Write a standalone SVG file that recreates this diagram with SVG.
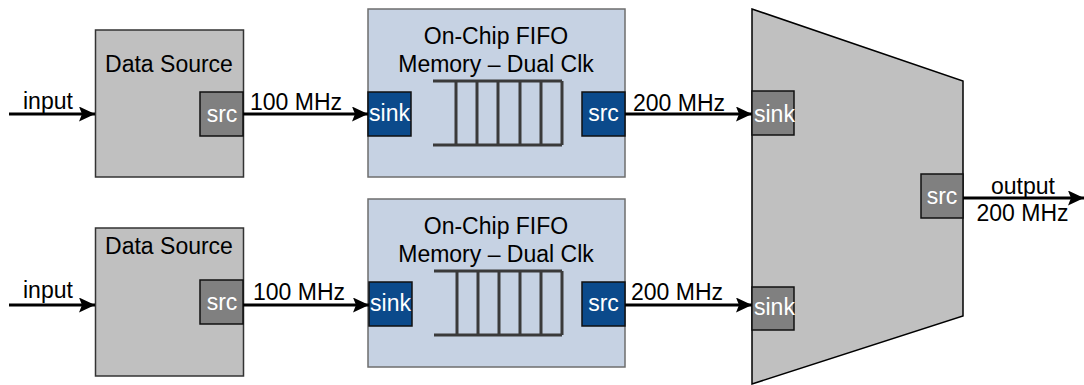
<svg xmlns="http://www.w3.org/2000/svg" width="1084" height="385" viewBox="0 0 1084 385">
<style>
text{font-family:"Liberation Sans",Arial,sans-serif;font-size:23px;fill:#000}
.ds{fill:#c0c0c0;stroke:#333;stroke-width:1.5}
.gp{fill:#808080;stroke:#111;stroke-width:1.5}
.bp{fill:#0b4a8b;stroke:#111;stroke-width:1.5}
.fifo{fill:#c6d2e3;stroke:#6e6e6e;stroke-width:1.5}
.w{fill:#fff}
.c{text-anchor:middle}
.q{fill:none;stroke:#3a3a3a;stroke-width:3}
.con{fill:none;stroke:#000;stroke-width:3;marker-end:url(#ah)}
</style>
<defs>
<marker id="ah" markerUnits="userSpaceOnUse" markerWidth="17" markerHeight="16" refX="16" refY="7.5" orient="auto">
<path d="M0,0 L16,7.5 L0,15 L3,7.5 z" fill="#000"/>
</marker>
</defs>
<g id="mux">
<polygon points="752,9 963,81 963,316 752,384" fill="#c0c0c0" stroke="#000" stroke-width="1.5"/>
<rect class="gp" x="752" y="91" width="42" height="44"/>
<text class="w" x="754" y="122">sink</text>
<rect class="gp" x="752" y="287" width="42" height="43"/>
<text class="w" x="754" y="315">sink</text>
<rect class="gp" x="921" y="174" width="42" height="44"/>
<text class="w c" x="942" y="204">src</text>
</g>
<g id="ds1">
<rect class="ds" x="95.5" y="30" width="148" height="147"/>
<text class="c" x="169" y="72">Data Source</text>
<rect class="gp" x="200" y="92" width="43" height="44"/>
<text class="w c" x="222" y="122">src</text>
</g>
<g id="ds2">
<rect class="ds" x="95.5" y="228" width="148" height="148"/>
<text class="c" x="169" y="254">Data Source</text>
<rect class="gp" x="200" y="280" width="43" height="44"/>
<text class="w c" x="222" y="310">src</text>
</g>
<g id="fifo1">
<rect class="fifo" x="368" y="9" width="257" height="168"/>
<text class="c" x="496" y="44">On-Chip FIFO</text>
<text class="c" x="496" y="72">Memory – Dual Clk</text>
<path class="q" d="M433,81 H562 M433,145 H562 M456,81 V145 M477,81 V145 M498,81 V145 M520,81 V145 M541,81 V145 M562,81 V145"/>
<rect class="bp" x="368" y="92" width="43" height="44"/>
<text class="w c" x="389.5" y="121">sink</text>
<rect class="bp" x="582" y="92" width="43" height="44"/>
<text class="w c" x="603.5" y="121">src</text>
</g>
<g id="fifo2">
<rect class="fifo" x="368" y="199" width="257" height="168"/>
<text class="c" x="496" y="234">On-Chip FIFO</text>
<text class="c" x="496" y="262">Memory – Dual Clk</text>
<path class="q" d="M434,271 H562 M434,335 H562 M457,271 V335 M478,271 V335 M499,271 V335 M520,271 V335 M541,271 V335 M562,271 V335"/>
<rect class="bp" x="369" y="282" width="43" height="44"/>
<text class="w c" x="390.5" y="311">sink</text>
<rect class="bp" x="582" y="282" width="43" height="44"/>
<text class="w c" x="603.5" y="311">src</text>
</g>
<g id="connectors">
<path class="con" d="M9,114 H95"/>
<path class="con" d="M243,114 H368"/>
<path class="con" d="M625,114 H752"/>
<path class="con" d="M9,305 H95"/>
<path class="con" d="M243,305 H369"/>
<path class="con" d="M625,305 H752"/>
<path class="con" d="M963,198 H1084"/>
<text x="23" y="109">input</text>
<text x="250" y="110">100 MHz</text>
<text x="633" y="111">200 MHz</text>
<text x="23" y="298">input</text>
<text x="253" y="300">100 MHz</text>
<text x="631" y="300">200 MHz</text>
<text class="c" x="1023" y="194">output</text>
<text class="c" x="1022.5" y="221">200 MHz</text>
</g>
</svg>
